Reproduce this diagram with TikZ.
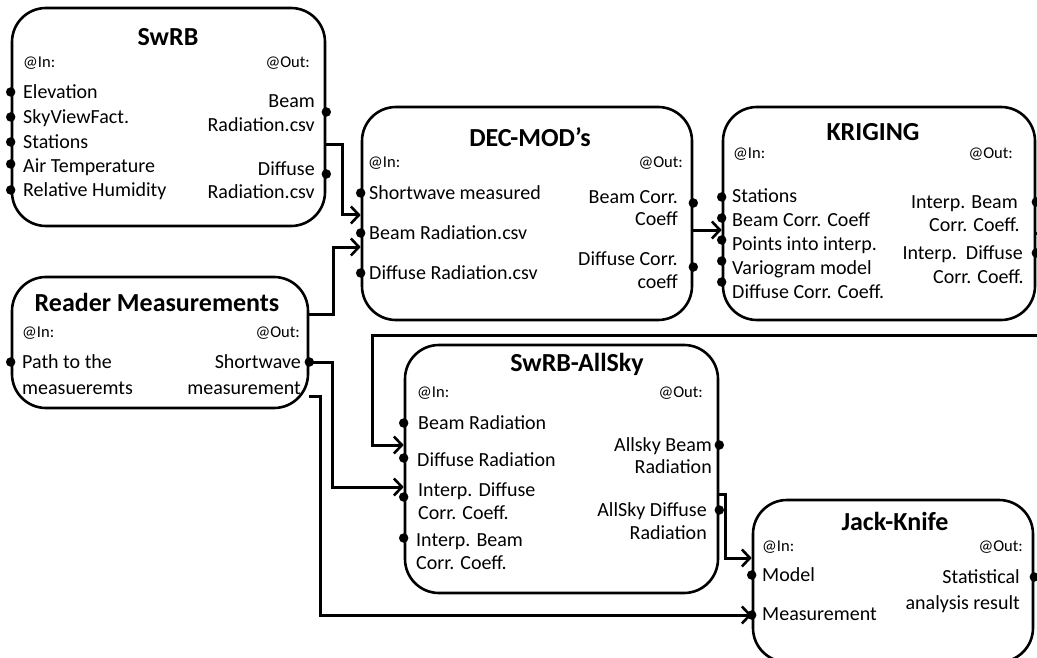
\documentclass[tikz,border=0pt]{standalone}
\usepackage{fontspec}
\setmainfont{Carlito}
\usetikzlibrary{arrows.meta}
\tikzset{
  box/.style={draw=black, line width=2.6pt, rounded corners=34pt, inner sep=0pt},
  conn/.style={line width=3pt, -{Straight Barb[length=8pt,width=17pt,line width=2.6pt]}},
  ttl/.style={inner sep=0pt, font=\fontsize{26}{30}\selectfont\bfseries, text height=17pt, text depth=0pt},
  io/.style={inner sep=0pt, font=\fontsize{16.5}{20}\selectfont, text height=10.6pt, text depth=0pt},
  lab/.style={inner sep=0pt, font=\fontsize{20}{24}\selectfont, text height=12.9pt, text depth=0pt},
  port/.style={fill=black, circle, inner sep=0pt, minimum size=9.5pt}
}
\begin{document}
\begin{tikzpicture}[x=1pt,y=-1pt]
\useasboundingbox (0,0) rectangle (1037,658);
\clip (0,0) rectangle (1037,658);
\fill[white] (0,0) rectangle (1037,658);

% boxes
\node[box, minimum width=313pt, minimum height=218pt] (swrb) at (168.5,117) {};
\node[box, minimum width=330pt, minimum height=213pt] (dec) at (527,213.5) {};
\node[box, minimum width=312pt, minimum height=213pt] (krig) at (879,213.5) {};
\node[box, minimum width=296pt, minimum height=131pt] (reader) at (160,342.5) {};
\node[box, minimum width=313pt, minimum height=248pt] (allsky) at (561.5,469) {};
\node[box, minimum width=280pt, minimum height=162pt] (jack) at (893,581) {};

% SwRB
\node[ttl] (t1) at (168,37) {SwRB};
\node[io, anchor=west] (i1) at (23,62) {@In:};
\node[io, anchor=east] (o1) at (310,62) {@Out:};
\node[lab, anchor=west] (s1) at (23,92) {Elevation};
\node[lab, anchor=west] (s2) at (23,117) {SkyViewFact.};
\node[lab, anchor=west] (s3) at (23,142) {Stations};
\node[lab, anchor=west] (s4) at (23,166) {Air Temperature};
\node[lab, anchor=west] (s5) at (23,190) {Relative Humidity};
\node[lab, anchor=east] (s6) at (315,101) {Beam};
\node[lab, anchor=east] (s7) at (315,125) {Radiation.csv};
\node[lab, anchor=east] (s8) at (315,169) {Diffuse};
\node[lab, anchor=east] (s9) at (315,192) {Radiation.csv};
\foreach \y in {92,117,142,164,190} \node[port] at (swrb.west |- 0,\y) {};
\foreach \y in {112,174} \node[port] at (swrb.east |- 0,\y) {};

% DEC-MOD's
\node[ttl] (t2) at (530,138) {DEC-MOD’s};
\node[io, anchor=west] (i2) at (368,162) {@In:};
\node[io, anchor=east] (o2) at (683,162) {@Out:};
\node[lab, anchor=west] (d1) at (369,193) {Shortwave measured};
\node[lab, anchor=west] (d2) at (369,233) {Beam Radiation.csv};
\node[lab, anchor=west] (d3) at (369,273) {Diffuse Radiation.csv};
\node[lab, anchor=east] (d4) at (678,197) {Beam Corr.};
\node[lab, anchor=east] (d5) at (678,219) {Coeff};
\node[lab, anchor=east] (d6) at (678,259) {Diffuse Corr.};
\node[lab, anchor=east] (d7) at (678,282) {coeff};
\foreach \y in {193,233,273} \node[port] at (dec.west |- 0,\y) {};
\foreach \y in {203,267} \node[port] at (dec.east |- 0,\y) {};

% KRIGING
\node[ttl] (t3) at (873,132) {KRIGING};
\node[io, anchor=west] (i3) at (733,153) {@In:};
\node[io, anchor=east] (o3) at (1013,153) {@Out:};
\node[lab, anchor=west] (k1) at (732,196) {Stations};
\node[lab, anchor=west] (k2) at (732,220) {Beam Corr. Coeff};
\node[lab, anchor=west] (k3) at (732,244) {Points into interp.};
\node[lab, anchor=west] (k4) at (732,268) {Variogram model};
\node[lab, anchor=west] (k5) at (732,292) {Diffuse Corr. Coeff.};
\node[lab, anchor=east] (k6) at (1018,202) {Interp. Beam};
\node[lab, anchor=east] (k7) at (1020,225) {Corr. Coeff.};
\node[lab, anchor=east] (k8) at (1023,253) {Interp.\ \ Diffuse};
\node[lab, anchor=east] (k9) at (1024,277) {Corr. Coeff.};
\foreach \y in {197,218,240,261,282} \node[port] at (krig.west |- 0,\y) {};
\foreach \y in {202,253} \node[port] at (krig.east |- 0,\y) {};

% Reader Measurements
\node[ttl] (t4) at (157,303) {Reader Measurements};
\node[io, anchor=west] (i4) at (22,332) {@In:};
\node[io, anchor=east] (o4) at (300,332) {@Out:};
\node[lab, anchor=west] (r1) at (22,362) {Path to the};
\node[lab, anchor=west] (r2) at (22,388) {measueremts};
\node[lab, anchor=east] (r3) at (301,362) {Shortwave};
\node[lab, anchor=east] (r4) at (301,388) {measurement};
\node[port] at (reader.west |- 0,362) {};
\node[port] at (reader.east |- 0,362) {};

% SwRB-AllSky
\node[ttl] (t5) at (577,363) {SwRB-AllSky};
\node[io, anchor=west] (i5) at (417,392) {@In:};
\node[io, anchor=east] (o5) at (703,392) {@Out:};
\node[lab, anchor=west] (a1) at (418,423) {Beam Radiation};
\node[lab, anchor=west] (a2) at (417,460) {Diffuse Radiation};
\node[lab, anchor=west] (a3) at (418,490) {Interp. Diffuse};
\node[lab, anchor=west] (a4) at (418,513) {Corr. Coeff.};
\node[lab, anchor=west] (a5) at (416,540) {Interp. Beam};
\node[lab, anchor=west] (a6) at (416,563) {Corr. Coeff.};
\node[lab, anchor=east] (a7) at (712,445) {Allsky Beam};
\node[lab, anchor=east] (a8) at (712,467) {Radiation};
\node[lab, anchor=east] (a9) at (707,510) {AllSky Diffuse};
\node[lab, anchor=east] (a10) at (707,533) {Radiation};
\foreach \y in {423,458,497,538} \node[port] at (allsky.west |- 0,\y) {};
\foreach \y in {445,510} \node[port] at (allsky.east |- 0,\y) {};

% Jack-Knife
\node[ttl] (t6) at (895,522) {Jack-Knife};
\node[io, anchor=west] (i6) at (762,546) {@In:};
\node[io, anchor=east] (o6) at (1023,546) {@Out:};
\node[lab, anchor=west] (j1) at (762,575) {Model};
\node[lab, anchor=west] (j2) at (762,614) {Measurement};
\node[lab, anchor=east] (j3) at (1020,577) {Statistical};
\node[lab, anchor=east] (j4) at (1020,603) {analysis result};
\node[port] at (jack.west |- 0,575) {};
\node[port] at (jack.west |- 0,615) {};
\node[port] at (jack.east |- 0,577) {};

% connectors
\coordinate (offright) at (1052,284);
\draw[conn] (swrb.east |- 0,145) -- (342,145) |- (dec.west |- 0,215);
\draw[conn] (reader.east |- 0,314) -| (333,247) -- (dec.west |- 0,247);
\draw[conn] (dec.east |- 0,230) -- (krig.west |- 0,230);
\draw[conn] (krig.east |- 0,233) -| (offright) |- (372,335) |- (allsky.west |- 0,445);
\draw[conn] (reader.east |- 0,362) -- (332,362) |- (allsky.west |- 0,487);
\draw[conn] (reader.east |- 0,396) -- (320,396) |- (jack.west |- 0,615);
\draw[conn] (allsky.east |- 0,494) -- (725,494) |- (jack.west |- 0,558);
\end{tikzpicture}
\end{document}
